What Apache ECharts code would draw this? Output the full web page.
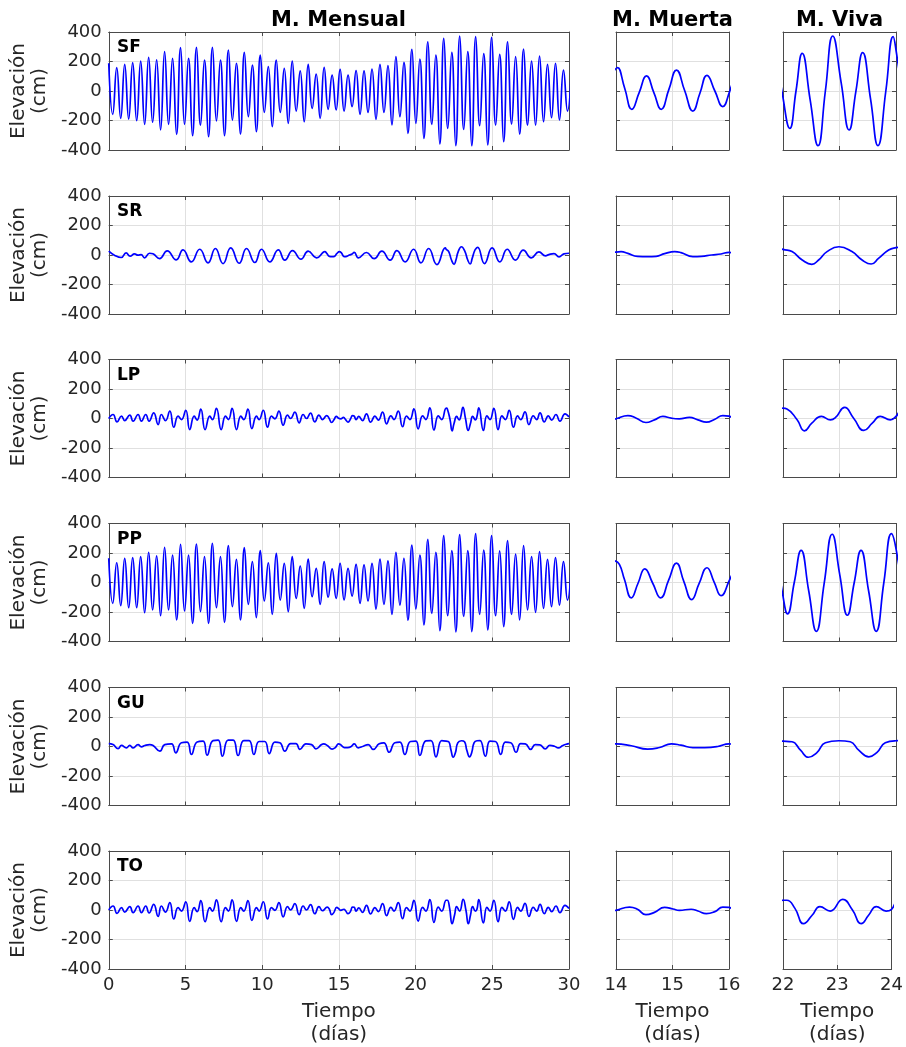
<!DOCTYPE html>
<html>
<head>
<meta charset="utf-8">
<title>Elevación - mareas</title>
<script src="https://cdn.jsdelivr.net/npm/echarts@6/dist/echarts.min.js"></script>
<style>
  html, body { margin: 0; padding: 0; background: #fff; }
  #chart { width: 906px; height: 1047px; }
</style>
</head>
<body>
<div id="chart"></div>
<script>
// ---- datos ----
const estaciones = ['SF', 'SR', 'LP', 'PP', 'GU', 'TO'];
const columnas = ['M. Mensual', 'M. Muerta', 'M. Viva'];
const rangosX = [[0, 30, 5], [14, 16, 1], [22, 24, 1]];
const ticksY = [-400, -200, 0, 200, 400];

// SF y PP: pleamares/bajamares cada dt dias (muestra 0 en t = 0)
const dt = 0.26;
const sfMes = [
  188, -158, 158, -185, 181, -190, 192, -201, 203, -226,
  228, -212, 212, -264, 267, -226, 221, -294, 294, -226,
  221, -303, 296, -231, 210, -310, 296, -203, 210, -303,
  278, -197, 188, -292, 262, -174, 176, -276, 244, -145,
  165, -242, 210, -145, 154, -219, 203, -136, 136, -208,
  181, -118, 115, -185, 160, -124, 108, -128, 147, -136,
  108, -106, 138, -158, 136, -145, 149, -192, 181, -145,
  172, -230, 233, -174, 194, -287, 282, -219, 217, -321,
  334, -226, 244, -359, 357, -253, 262, -371, 373, -260,
  267, -371, 368, -235, 253, -366, 364, -231, 248, -344,
  334, -224, 233, -292, 284, -231, 203, -231, 237, -208,
  181, -181, 188, -196, 142, -136, 180
];
const ppMes = [
  164, -141, 134, -157, 164, -171, 168, -171, 175, -205,
  205, -186, 180, -225, 238, -186, 186, -254, 259, -193,
  186, -277, 261, -198, 175, -277, 266, -171, 175, -270,
  250, -164, 157, -254, 236, -148, 141, -238, 216, -125,
  134, -216, 198, -119, 130, -198, 175, -107, 112, -175,
  159, -96, 96, -148, 141, -100, 92, -108, 130, -118,
  96, -92, 123, -141, 119, -125, 130, -180, 159, -148,
  146, -216, 205, -153, 164, -256, 254, -180, 186, -288,
  293, -209, 205, -327, 318, -225, 216, -335, 325, -230,
  216, -333, 331, -216, 220, -322, 318, -225, 214, -299,
  284, -216, 193, -254, 250, -186, 175, -202, 209, -175,
  157, -164, 168, -153, 141, -119, 150
];

// detalle de SF y PP en marea muerta y viva [dia, cm]
const sfMuerta = [[13.78, -150], [14.03, 158], [14.155, 17], [14.28, -124], [14.41, -11], [14.54, 102],
  [14.67, -11], [14.8, -124], [14.935, 9], [15.07, 142], [15.215, 3], [15.36, -136], [15.485, -15],
  [15.61, 106], [15.75, 0], [15.89, -106], [16.0, -16], [16.12, 138]];
const sfViva = [[21.84, 357], [22.0, -45], [22.12, -253], [22.23, 0], [22.34, 255], [22.48, -58],
  [22.62, -371], [22.75, 0], [22.88, 373], [23.03, 55], [23.17, -264], [23.29, -2], [23.41, 260],
  [23.55, -55], [23.68, -371], [23.82, 0], [23.95, 368], [24.0, 278], [24.2, -250]];
const ppMuerta = [[13.98, 147], [14.06, 123], [14.15, 20], [14.27, -104], [14.39, -5], [14.51, 93],
  [14.65, -5], [14.79, -104], [14.93, 14], [15.07, 132], [15.2, 8], [15.34, -116], [15.47, -8],
  [15.61, 100], [15.735, 5], [15.86, -89], [16.0, 9], [16.12, 120]];
const ppViva = [[21.84, 318], [22.0, -93], [22.08, -213], [22.2, 2], [22.32, 218], [22.455, -56],
  [22.59, -331], [22.73, -2], [22.87, 327], [23.005, 52], [23.14, -222], [23.26, -2], [23.38, 218],
  [23.515, -56], [23.65, -331], [23.785, 0], [23.92, 331], [24.0, 229], [24.18, -216]];

// SR, LP, GU, TO: extremos y puntos de forma [dia, cm]
const srMes = [[0, 26], [0.04, 26], [0.37, -1], [0.81, -17], [1.13, 14], [1.39, -8], [1.68, 8], [1.9, -1],
  [2.11, 3], [2.33, -19], [2.66, 12], [2.88, 8], [3.31, -24], [3.81, 28], [4.4, -33], [4.84, 35],
  [5.38, -47], [5.93, 39], [6.47, -53], [6.95, 44], [7.45, -58], [7.95, 48], [8.5, -56], [8.98, 44],
  [9.52, -51], [9.96, 39], [10.5, -47], [11.05, 35], [11.48, -35], [11.98, 30], [12.53, -28], [13.0, 26],
  [13.55, -19], [14.0, 20], [14.09, 23], [14.21, 11], [14.38, -9], [14.56, -11], [14.71, -9], [14.86, 9],
  [15.04, 23], [15.15, 16], [15.36, -11], [15.51, -9], [15.69, 0], [15.86, 7], [16.0, 18], [16.27, -19],
  [16.8, 17], [17.3, -25], [17.8, 26], [18.34, -35], [18.78, 30], [19.32, -47], [19.87, 39], [20.35, -53],
  [20.85, 44], [21.39, -65], [21.94, 48], [22.0, 38], [22.16, 23], [22.34, -34], [22.51, -63], [22.63, -34],
  [22.78, 23], [22.99, 56], [23.22, 23], [23.4, -34], [23.56, -61], [23.69, -23], [23.87, 34], [24.0, 50],
  [24.05, 52], [24.49, -58], [24.99, 48], [25.49, -47], [25.97, 39], [26.51, -35], [27.02, 33], [27.54, -19],
  [28.04, 21], [28.47, -6], [28.69, 3], [29.02, 10], [29.35, -13], [29.67, 8], [30.0, 12]];

const lpMes = [[0, 0], [0.28, 27], [0.54, -23], [0.83, 16], [1.04, -14], [1.37, 23], [1.59, -18], [1.91, 27],
  [2.13, -18], [2.41, 27], [2.63, -18], [2.93, 38], [3.22, -41], [3.43, 27], [3.7, -14], [3.98, 50],
  [4.24, -59], [4.52, 16], [4.74, -7], [5.02, 56], [5.28, -75], [5.57, 16], [5.76, -11], [6.0, 63],
  [6.28, -75], [6.59, 16], [6.76, -7], [7.02, 68], [7.33, -75], [7.61, 16], [7.8, -7], [8.04, 68],
  [8.33, -75], [8.61, 16], [8.8, -7], [9.07, 63], [9.33, -68], [9.63, 16], [9.8, -7], [10.07, 56],
  [10.35, -59], [10.61, 16], [10.83, -2], [11.09, 50], [11.37, -45], [11.65, 23], [11.85, 0], [12.13, 43],
  [12.41, -29], [12.67, 27], [12.89, 0], [13.15, 36], [13.43, -23], [13.7, 23], [13.93, -7],
  [14.0, -2], [14.21, 20], [14.36, 2], [14.53, -27], [14.68, -9], [14.83, 14], [14.98, 2], [15.12, -2],
  [15.3, 7], [15.45, -9], [15.6, -25], [15.75, -5], [15.89, 20], [16.0, 16],
  [16.12, -8], [16.3, 14], [16.54, -14], [16.8, 32], [17.07, -25], [17.35, 16], [17.57, -11], [17.85, 43],
  [18.11, -36], [18.39, 18], [18.59, -7], [18.87, 50], [19.15, -56], [19.41, 16], [19.63, -7], [19.89, 65],
  [20.17, -70], [20.46, 18], [20.67, -7], [20.93, 72], [21.2, -79], [21.48, 18], [21.7, -7],
  [22.0, 70], [22.07, 65], [22.25, -9], [22.38, -84], [22.51, -32], [22.68, 14], [22.84, -9], [22.93, 7],
  [23.09, 75], [23.25, 2], [23.43, -81], [23.58, -32], [23.72, 14], [23.9, -9], [24.0, 14],
  [24.12, 72], [24.42, -81], [24.65, 18], [24.85, -7], [25.1, 68], [25.38, -75], [25.63, 18], [25.85, -7],
  [26.1, 56], [26.38, -59], [26.65, 18], [26.85, -7], [27.13, 45], [27.39, -41], [27.67, 18], [27.89, -7],
  [28.11, 38], [28.39, -23], [28.65, 18], [28.87, -11], [29.15, 27], [29.41, -18], [29.74, 32], [30.0, 10]];

const guMes = [[0, 20], [0.28, 13], [0.61, -14], [0.83, 7], [1.15, -9], [1.37, 7], [1.59, -9], [1.91, 13],
  [2.13, -2], [2.35, 7], [2.67, 13], [2.89, 7], [3.33, -32], [3.65, 13], [4.09, 18], [4.37, -43],
  [4.74, 25], [5.11, 29], [5.39, -54], [5.76, 31], [6.15, 36], [6.41, -59], [6.8, 40], [7.13, 43],
  [7.41, -66], [7.78, 43], [8.11, 43], [8.43, -61], [8.8, 40], [9.15, 40], [9.46, -54], [9.8, 34],
  [10.17, 34], [10.46, -48], [10.83, 29], [11.15, 25], [11.48, -32], [11.85, 20], [12.2, 20], [12.46, -20],
  [12.85, 18], [13.22, 13], [13.5, -16], [13.87, 13],
  [14.0, 18], [14.27, 5], [14.56, -18], [14.77, -7], [14.98, 18], [15.15, 9], [15.36, -7], [15.57, -7],
  [15.8, 0], [16.0, 18],
  [16.26, -9], [16.59, 2], [16.91, 13], [17.24, -20], [17.63, 18], [17.93, 25], [18.28, -39], [18.65, 25],
  [18.98, 29], [19.3, -54], [19.67, 34], [20.02, 36], [20.28, -61], [20.67, 38], [21.0, 40], [21.33, -70],
  [21.7, 40],
  [22.0, 36], [22.16, 32], [22.31, -25], [22.45, -73], [22.6, -41], [22.75, 25], [22.99, 39], [23.19, 32],
  [23.34, -25], [23.52, -70], [23.66, -41], [23.81, 25], [24.0, 39],
  [24.2, 40], [24.55, -66], [24.85, 36], [25.2, 34], [25.55, -54], [25.85, 29], [26.2, 25], [26.55, -39],
  [26.85, 20], [27.15, 18], [27.5, -20], [27.8, 13], [28.1, 11], [28.45, -16], [28.75, 7], [29.05, 2],
  [29.3, -9], [29.6, 7], [29.9, 18], [30.0, 20]];

const toMes = [[0, 0], [0.28, 27], [0.54, -23], [0.83, 16], [1.04, -14], [1.37, 23], [1.59, -18], [1.91, 27],
  [2.13, -18], [2.41, 27], [2.63, -20], [2.93, 38], [3.22, -43], [3.43, 27], [3.7, -14], [3.98, 50],
  [4.24, -61], [4.52, 16], [4.74, -7], [5.02, 56], [5.28, -77], [5.57, 16], [5.76, -11], [6.0, 63],
  [6.28, -79], [6.59, 16], [6.76, -7], [7.02, 68], [7.33, -79], [7.61, 16], [7.8, -7], [8.04, 68],
  [8.33, -77], [8.61, 16], [8.8, -7], [9.07, 63], [9.33, -70], [9.63, 16], [9.8, -7], [10.07, 56],
  [10.35, -61], [10.61, 16], [10.83, -2], [11.09, 50], [11.37, -47], [11.65, 23], [11.85, 0], [12.13, 43],
  [12.41, -32], [12.67, 27], [12.89, 0], [13.15, 36], [13.43, -25], [13.7, 23], [13.93, -5],
  [14.0, -2], [14.24, 20], [14.38, 5], [14.53, -32], [14.68, -16], [14.86, 18], [15.01, 7], [15.12, -2],
  [15.33, 5], [15.45, -7], [15.6, -25], [15.75, -11], [15.89, 20], [16.0, 18],
  [16.12, -8], [16.3, 14], [16.54, -16], [16.8, 32], [17.07, -27], [17.35, 16], [17.57, -11], [17.85, 43],
  [18.11, -38], [18.39, 18], [18.59, -7], [18.87, 50], [19.15, -59], [19.41, 16], [19.63, -7], [19.89, 65],
  [20.17, -75], [20.46, 18], [20.67, -7], [20.93, 70], [21.2, -84], [21.48, 20], [21.7, -7],
  [22.0, 66], [22.07, 66], [22.22, 11], [22.38, -93], [22.54, -34], [22.68, 23], [22.87, -7], [23.1, 72],
  [23.28, 0], [23.44, -93], [23.58, -34], [23.72, 23], [23.9, -7], [24.0, 5],
  [24.12, 70], [24.42, -88], [24.65, 18], [24.85, -7], [25.1, 66], [25.38, -79], [25.63, 18], [25.85, -7],
  [26.1, 56], [26.38, -63], [26.65, 18], [26.85, -7], [27.13, 45], [27.39, -43], [27.67, 18], [27.89, -7],
  [28.11, 38], [28.39, -25], [28.65, 18], [28.87, -11], [29.15, 27], [29.41, -18], [29.74, 32], [30.0, 10]];

// ---- layout ----
const fuente = '"DejaVu Sans", Verdana, sans-serif';
const colorTexto = '#262626';
const colorEje = '#4a4a4a';
const colorRejilla = '#e0e0e0';
const filas = [32, 196, 359.5, 523.5, 687.5, 851];
const alto = 118;
const cols = [{ left: 108, width: 461 }, { left: 616, width: 113 }, { left: 783, width: 113 }];

const muestras = vals => vals.map((v, i) => [+(i * dt).toFixed(2), v]);

const datos = {
  SF: [muestras(sfMes), sfMuerta, sfViva],
  SR: [srMes, srMes, srMes],
  LP: [lpMes, lpMes, lpMes],
  PP: [muestras(ppMes), ppMuerta, ppViva],
  GU: [guMes, guMes, guMes],
  TO: [toMes, toMes, toMes]
};

const chart = echarts.init(document.getElementById('chart'), null, { renderer: 'canvas' });

const grids = [], xAxes = [], yAxes = [], series = [], graficos = [];

estaciones.forEach((est, r) => {
  cols.forEach((col, c) => {
    const g = r * 3 + c;
    const [xmin, xmax, xint] = rangosX[c];
    const ultima = r === estaciones.length - 1;
    grids.push({ left: col.left, width: col.width, top: filas[r], height: alto, show: false });

    const lineaEje = { show: true, onZero: false, lineStyle: { color: colorEje, width: 1 } };
    const tick = { show: true, inside: true, length: 4, lineStyle: { color: colorEje } };

    xAxes.push({
      gridIndex: g, type: 'value', min: xmin, max: xmax, interval: xint, position: 'bottom',
      axisLine: lineaEje, axisTick: tick,
      axisLabel: { show: ultima, margin: 7, fontSize: 18, color: colorTexto, fontFamily: fuente },
      splitLine: { show: true, lineStyle: { color: colorRejilla, width: 1 } },
      name: ultima ? 'Tiempo\n(días)' : '', nameLocation: 'middle', nameGap: 31,
      nameTextStyle: { fontSize: 20, lineHeight: 23, color: colorTexto, fontFamily: fuente }
    });
    xAxes.push({
      gridIndex: g, type: 'value', min: xmin, max: xmax, interval: xint, position: 'top',
      axisLine: lineaEje, axisTick: tick, axisLabel: { show: false }, splitLine: { show: false }
    });
    yAxes.push({
      gridIndex: g, type: 'value', min: -400, max: 400, interval: 200, position: 'left',
      axisLine: lineaEje, axisTick: tick,
      axisLabel: { show: c === 0, margin: 7, fontSize: 18, color: colorTexto, fontFamily: fuente },
      splitLine: { show: true, lineStyle: { color: colorRejilla, width: 1 } },
      name: c === 0 ? 'Elevación\n(cm)' : '', nameLocation: 'middle', nameRotate: 90, nameGap: 53,
      nameTextStyle: { fontSize: 20, lineHeight: 21, color: colorTexto, fontFamily: fuente }
    });
    yAxes.push({
      gridIndex: g, type: 'value', min: -400, max: 400, interval: 200, position: 'right',
      axisLine: lineaEje, axisTick: tick, axisLabel: { show: false }, splitLine: { show: false }
    });

    series.push({
      type: 'line', name: est + ' ' + columnas[c],
      xAxisIndex: 2 * g, yAxisIndex: 2 * g,
      data: datos[est][c],
      smooth: true, showSymbol: false, symbol: 'none', clip: true, silent: true,
      lineStyle: { color: '#0000ff', width: 1.7 }
    });
  });

  graficos.push({
    type: 'text', x: 117, y: filas[r] + 16, silent: true,
    style: { text: est, font: 'bold 17px ' + fuente, fill: '#000', align: 'left', verticalAlign: 'middle' }
  });
});

columnas.forEach((nombre, c) => {
  graficos.push({
    type: 'text', x: cols[c].left + cols[c].width / 2, y: 20.5, silent: true,
    style: { text: nombre, font: 'bold 21px ' + fuente, fill: '#000', align: 'center', verticalAlign: 'middle' }
  });
});

chart.setOption({
  animation: false,
  backgroundColor: '#ffffff',
  grid: grids,
  xAxis: xAxes,
  yAxis: yAxes,
  series: series,
  graphic: graficos
});

window.addEventListener('resize', () => chart.resize());
</script>
</body>
</html>
